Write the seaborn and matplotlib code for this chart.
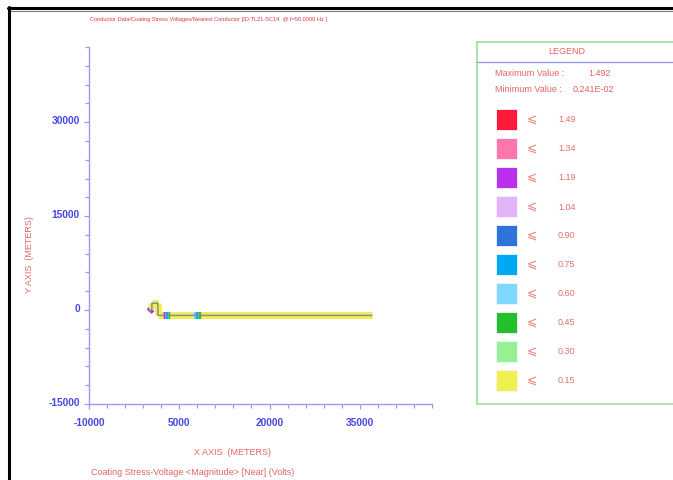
import numpy as np
import pandas as pd
import matplotlib
matplotlib.use("Agg")
import matplotlib.pyplot as plt
import matplotlib.transforms as mtransforms
from matplotlib.lines import Line2D
from matplotlib.patches import Rectangle
from matplotlib.ticker import FixedLocator
import seaborn as sns

sns.set_theme(style="white")
plt.rcParams["font.family"] = ["Liberation Sans", "DejaVu Sans"]

# Conductor route (metres) and coating stress value on each segment
route_x = [0, 450, 450, 1450, 1450, 2300, 2700, 3100, 3500, 7200, 7600, 8100, 8600, 37000]
route_y = [-250, 200, 1100, 1100, -850, -850, -850, -850, -850, -850, -850, -850, -850, -850]
segment_stress = [1.12, 0.08, 0.08, 0.08, 0.10, 1.15, 0.68, 0.40, 0.09, 0.55, 0.72, 0.42, 0.07]

# Legend bins (upper limits) and their colours
bin_limits = [1.49, 1.34, 1.19, 1.04, 0.90, 0.75, 0.60, 0.45, 0.30, 0.15]
bin_labels = ["1.49", "1.34", "1.19", "1.04", "0.90", "0.75", "0.60", "0.45", "0.30", "0.15"]
bin_colors = ["#ff1a3c", "#ff77aa", "#bb30ec", "#e4b4f8", "#2e74da",
              "#00aaf2", "#80d8ff", "#22c02a", "#98f094", "#f0f050"]
max_value = "1.492"
min_value = "0.241E-02"

x_major = [-10000, 5000, 20000, 35000]
y_major = [-15000, 0, 15000, 30000]

W, H = 673, 481
fig = plt.figure(figsize=(W / 100, H / 100), dpi=100)


def fx(px):
    return px / W


def fy(py):
    return 1 - py / H


ax = fig.add_axes([fx(89), fy(405), fx(432) - fx(89), fy(48) - fy(405)])

axis_blue = "#9a9aee"
tick_blue = "#4848e0"
label_red = "#e06464"


def bin_color(v):
    for lim, col in zip(reversed(bin_limits), reversed(bin_colors)):
        if v <= lim:
            return col
    return bin_colors[0]


# coloured stress halo along the route
for i, v in enumerate(segment_stress):
    ax.plot(route_x[i:i + 2], route_y[i:i + 2], color=bin_color(v), lw=5.0,
            solid_capstyle="butt", zorder=2)

# conductor centre line
route = pd.DataFrame({"x": route_x, "y": route_y})
sns.lineplot(data=route, x="x", y="y", sort=False, estimator=None, ax=ax,
             color="#8c8c9c", lw=1.1, zorder=3)

ax.set_xlim(-10000, 47000)
ax.set_ylim(-15000, 42000)
ax.xaxis.set_major_locator(FixedLocator(x_major))
ax.yaxis.set_major_locator(FixedLocator(y_major))
ax.xaxis.set_minor_locator(FixedLocator(np.arange(-10000, 47001, 3000)))
ax.yaxis.set_minor_locator(FixedLocator(np.arange(-15000, 42001, 3000)))
ax.set_xticklabels([str(v) for v in x_major])
ax.set_yticklabels([str(v) for v in y_major])
ax.set_xlabel("")
ax.set_ylabel("")

for side in ["top", "right"]:
    ax.spines[side].set_visible(False)
for side in ["bottom", "left"]:
    ax.spines[side].set_color(axis_blue)
    ax.spines[side].set_linewidth(1.0)

ax.tick_params(axis="both", which="major", direction="out", length=3.5, width=0.9,
               color=axis_blue, labelcolor=tick_blue, labelsize=7.4)
ax.tick_params(axis="both", which="minor", direction="out", length=3, width=0.9,
               color=axis_blue)
ax.tick_params(axis="x", which="major", pad=6)
ax.tick_params(axis="y", which="major", pad=3)
ax.tick_params(axis="x", which="both", bottom=True)
ax.tick_params(axis="y", which="both", left=True)
lift = mtransforms.ScaledTranslation(0, 3 / 100, fig.dpi_scale_trans)
for lbl in ax.get_xticklabels() + ax.get_yticklabels():
    lbl.set_fontweight("bold")
for lbl in ax.get_yticklabels():
    lbl.set_transform(lbl.get_transform() + lift)

# titles and axis captions
fig.text(fx(208), fy(20), "Conductor Data/Coating Stress Voltages/Nearest Conductor "
         "[ID:TL21-SC14  @ f=50.0000 Hz ]", color="#dd3344", fontsize=4.1,
         ha="center", va="center")
fig.text(fx(29), fy(255), "Y AXIS  (METERS)", color=label_red, fontsize=6.5,
         rotation=90, ha="center", va="center")
fig.text(fx(232), fy(453), "X AXIS  (METERS)", color=label_red, fontsize=6.5,
         ha="center", va="center")
fig.text(fx(91), fy(473), "Coating Stress-Voltage <Magnitude> [Near] (Volts)",
         color=label_red, fontsize=6.5, ha="left", va="center")

# legend panel
green = "#98e098"
fig.add_artist(Line2D([fx(477), fx(477)], [fy(43), fy(405)], color=green, lw=1.2))
fig.add_artist(Line2D([fx(477), 1.0], [fy(43), fy(43)], color=green, lw=1.2))
fig.add_artist(Line2D([fx(477), 1.0], [fy(405), fy(405)], color=green, lw=1.2))
fig.add_artist(Line2D([fx(477), 1.0], [fy(63), fy(63)], color="#9a9aee", lw=1.0))
fig.text(fx(567), fy(52), "LEGEND", color=label_red, fontsize=6.5, ha="center", va="center")
fig.text(fx(495), fy(74), "Maximum Value :", color=label_red, fontsize=6.5, ha="left", va="center")
fig.text(fx(588), fy(74), max_value, color=label_red, fontsize=6.5, ha="left", va="center")
fig.text(fx(495), fy(90), "Minimum Value :", color=label_red, fontsize=6.5, ha="left", va="center")
fig.text(fx(573), fy(90), min_value, color=label_red, fontsize=6.5, ha="left", va="center")

for k, (lab, col) in enumerate(zip(bin_labels, bin_colors)):
    cy = 120 + 29 * k
    fig.add_artist(Rectangle((fx(496), fy(cy + 10.5)), fx(21), 21 / H,
                             facecolor=col, edgecolor="#f4f4ff", lw=0.6))
    fig.text(fx(532), fy(cy), "\u2a7d", color="#e88080", fontsize=9,
             ha="center", va="center", family=["DejaVu Sans"])
    fig.text(fx(558), fy(cy), lab, color="#e07070", fontsize=6.5, ha="left", va="center")

# page frame
fig.add_artist(Line2D([fx(8), 1.0], [fy(9), fy(9)], color="black", lw=2.2))
fig.add_artist(Line2D([fx(10), 1.0], [fy(11.5), fy(11.5)], color="#777777", lw=0.8))
fig.add_artist(Line2D([fx(9), fx(9)], [fy(8), 0], color="black", lw=2.2))

fig.savefig("out.png", dpi=100, facecolor="white")
